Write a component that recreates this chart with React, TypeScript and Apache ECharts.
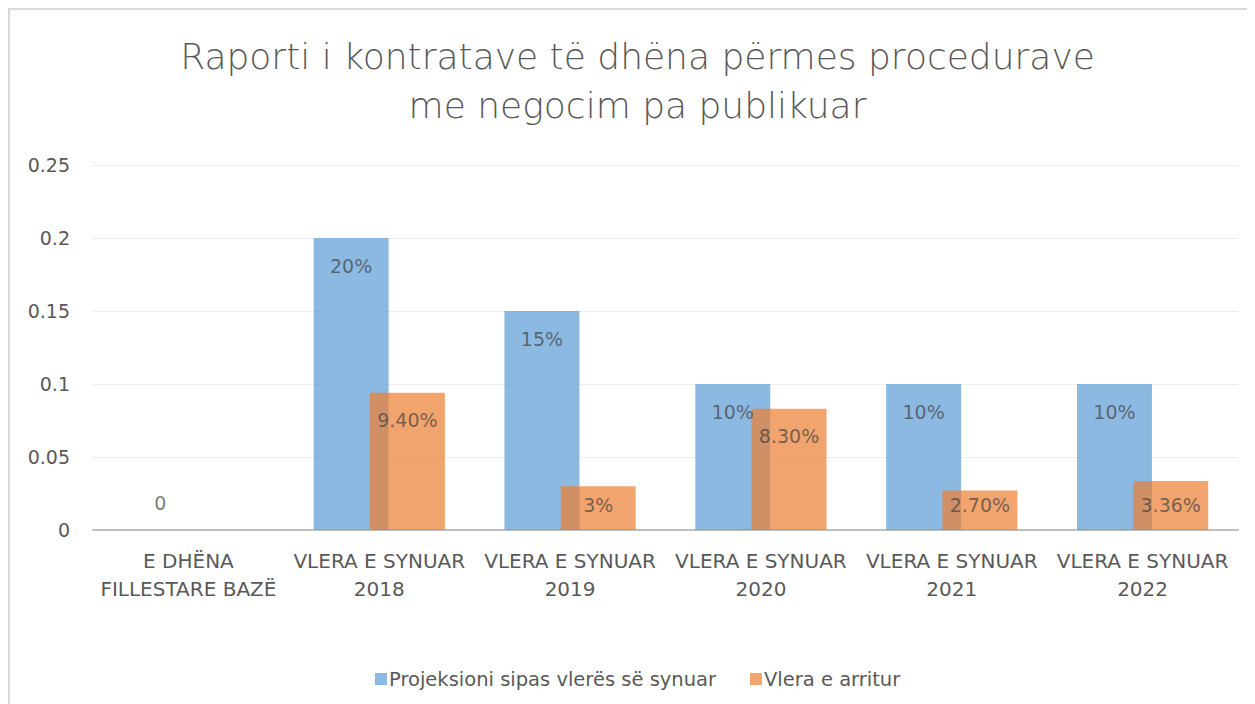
import React, { useEffect, useRef } from "react";
import * as echarts from "echarts";

const titleText = "Raporti i kontratave të dhëna përmes procedurave\nme negocim pa publikuar";
const categories = [
  "E DHËNA\nFILLESTARE BAZË",
  "VLERA E SYNUAR\n2018",
  "VLERA E SYNUAR\n2019",
  "VLERA E SYNUAR\n2020",
  "VLERA E SYNUAR\n2021",
  "VLERA E SYNUAR\n2022",
];
const seriesNames = ["Projeksioni sipas vlerës së synuar", "Vlera e arritur"];
const projectedValues = [0, 0.2, 0.15, 0.1, 0.1, 0.1];
const projectedLabels = ["0", "20%", "15%", "10%", "10%", "10%"];
const achievedValues: (number | null)[] = [null, 0.094, 0.03, 0.083, 0.027, 0.0336];
const achievedLabels = ["", "9.40%", "3%", "8.30%", "2.70%", "3.36%"];
const yTicks = { min: 0, max: 0.25, interval: 0.05 };

const FONT = "'DejaVu Sans', sans-serif";
const TXT = "#404040";
const GREY = "#595959";

function labelFor(v: number | null, text: string) {
  if (v === null) return { show: false };
  if (v === 0) return { show: true, position: "top", distance: 18, formatter: text };
  if (v < 0.037) return { show: true, position: "insideBottom", distance: 16, formatter: text };
  return { show: true, position: "insideTop", distance: 18, formatter: text };
}

export default function App() {
  const ref = useRef<HTMLDivElement>(null);
  useEffect(() => {
    if (!ref.current) return;
    const chart = echarts.init(ref.current, undefined, { renderer: "svg" });
    chart.setOption({
      animation: false,
      backgroundColor: "#ffffff",
      graphic: [
        {
          type: "text",
          x: 627.5,
          y: 22,
          style: {
            text: titleText,
            textAlign: "center",
            textVerticalAlign: "top",
            fontFamily: FONT,
            fontWeight: 300,
            fontSize: 36,
            lineHeight: 49,
            fill: GREY,
          },
        },
      ],
      legend: {
        left: 360,
        top: 654,
        itemWidth: 12,
        itemHeight: 12,
        itemGap: 34,
        icon: "rect",
        textStyle: { fontFamily: FONT, fontSize: 19.5, color: GREY, padding: [0, 0, 0, -3] },
        data: seriesNames,
      },
      grid: { left: 83, right: 17, top: 155, bottom: 174, containLabel: false },
      xAxis: {
        type: "category",
        data: categories,
        axisLine: { lineStyle: { color: "#bfbfbf", width: 2 } },
        axisTick: { show: false },
        axisLabel: {
          fontFamily: FONT,
          fontSize: 20,
          color: GREY,
          lineHeight: 28,
          margin: 17,
          interval: 0,
        },
      },
      yAxis: {
        type: "value",
        min: yTicks.min,
        max: yTicks.max,
        interval: yTicks.interval,
        axisLine: { show: false },
        axisTick: { show: false },
        splitLine: { lineStyle: { color: "#ededed", width: 1 } },
        axisLabel: { fontFamily: FONT, fontSize: 19, color: GREY, margin: 23 },
      },
      series: [
        {
          name: seriesNames[0],
          type: "bar",
          barWidth: 75,
          barGap: "-25%",
          itemStyle: { color: "#5B9BD5", opacity: 0.7 },
          label: { fontFamily: FONT, fontSize: 19, color: TXT },
          data: projectedValues.map((v, i) => ({ value: v, label: labelFor(v, projectedLabels[i]) })),
        },
        {
          name: seriesNames[1],
          type: "bar",
          barWidth: 75,
          barGap: "-25%",
          itemStyle: { color: "#ED7D31", opacity: 0.7 },
          label: { fontFamily: FONT, fontSize: 19, color: TXT },
          data: achievedValues.map((v, i) => ({ value: v === null ? "-" : v, label: labelFor(v, achievedLabels[i]) })),
        },
      ],
    });
    return () => chart.dispose();
  }, []);
  return (
    <div
      style={{
        width: 1247,
        height: 696,
        boxSizing: "border-box",
        borderTop: "2px solid #d9d9d9",
        borderLeft: "2px solid #d9d9d9",
        background: "#fff",
      }}
    >
      <div ref={ref} style={{ width: 1245, height: 694 }} />
    </div>
  );
}
